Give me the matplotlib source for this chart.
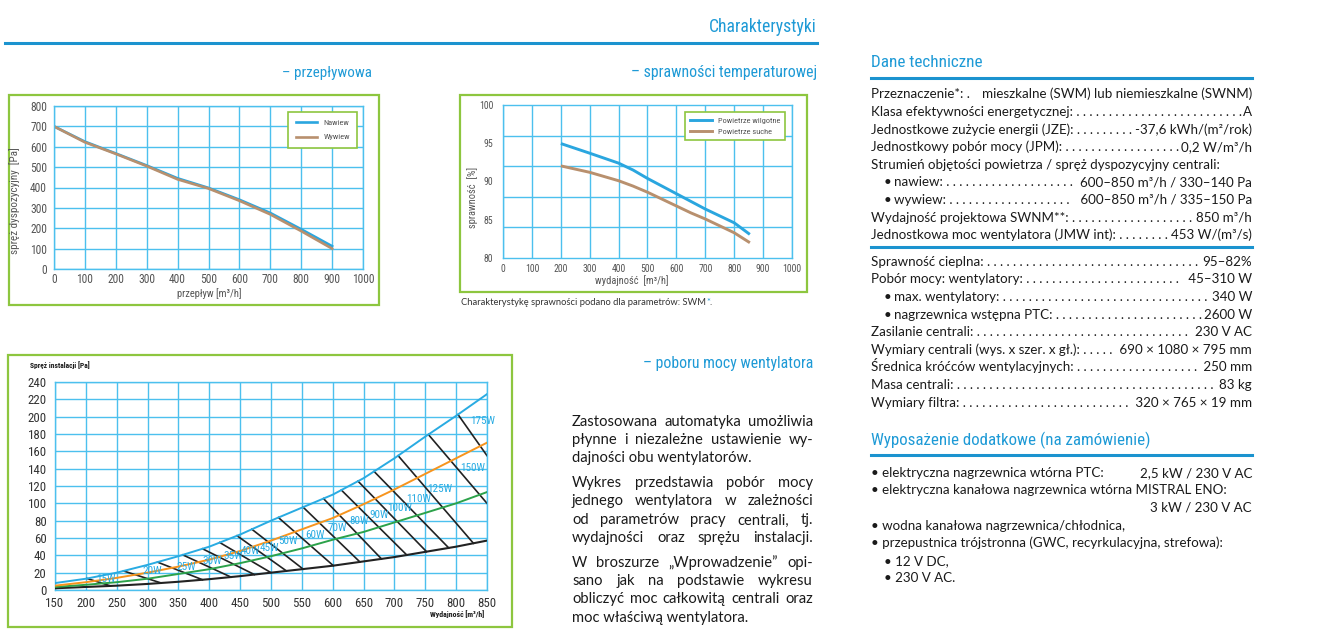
import numpy as np
import matplotlib
matplotlib.use("Agg")
import matplotlib.pyplot as plt
from matplotlib import font_manager as fm
from matplotlib.patches import Rectangle
from matplotlib.ticker import MultipleLocator

# --- przepływowa: available pressure vs flow --------------------------------
FLOW_X = [0, 100, 200, 300, 400, 500, 600, 700, 800, 900]
NAWIEW = [700, 625, 567, 508, 445, 398, 340, 275, 195, 112]
WYWIEW = [700, 622, 565, 505, 440, 395, 335, 268, 186, 100]

# --- sprawności temperaturowej: efficiency vs airflow -----------------------
EFF_X = [205, 300, 400, 450, 500, 550, 600, 650, 700, 750, 800, 850]
EFF_WET = [94.9, 93.7, 92.4, 91.5, 90.4, 89.4, 88.4, 87.4, 86.4, 85.5, 84.6, 83.2]
EFF_DRY = [92.0, 91.2, 90.1, 89.4, 88.6, 87.7, 86.8, 85.9, 85.1, 84.2, 83.3, 82.1]

# --- poboru mocy wentylatora: installation pressure vs airflow -------------
P_X = [150, 200, 250, 300, 350, 400, 450, 500, 550, 600, 650, 700, 750, 800, 850]
P_BLUE = [8, 13, 20, 29, 39, 50, 64, 80, 95, 110, 129, 152, 177, 201, 226]
P_ORANGE = [5, 9, 14, 20, 27, 35, 45, 57, 70, 83, 99, 116, 134, 152, 170]
P_GREEN = [3.5, 6, 9, 13, 18.5, 24, 31, 39, 48, 58, 67, 78, 89, 100, 113]
P_BLACK = [2, 3.5, 5, 7, 9.5, 12.5, 16, 20, 24, 28, 33, 38, 44, 50, 57]
# iso-power lines: start on the blue curve, end on the black curve
ISO_TOP_X = [202, 261, 316, 357, 389, 417, 445, 469, 512, 552, 585, 614, 641, 667, 706, 755, 803]
ISO_BOT_X = [240, 322, 389, 435, 473, 500, 525, 552, 601, 644, 679, 720, 752, 788, 828, 850, 850]
ISO_BOT_Y = [None] * 15 + [100, 155]      # last two leave through the right edge
POWER = ["15W", "20W", "25W", "30W", "35W", "40W", "45W", "50W", "60W", "70W",
         "80W", "90W", "100W", "110W", "125W", "150W", "175W"]
POWER_X = [233, 307, 363, 405, 438, 466, 497, 527, 571, 607, 643, 675, 708, 739, 774, 826, 843]
POWER_Y = [13, 22, 27, 34, 39, 45, 49, 56, 63, 72, 80, 87, 95, 105, 117, 141, 195]

# --- text blocks ------------------------------------------------------------
TECH_1 = [
    ("Klasa efektywności energetycznej:", "A", False),
    ("Jednostkowe zużycie energii (JZE):", "-37,6 kWh/(m²/rok)", False),
    ("Jednostkowy pobór mocy (JPM):", "0,2 W/m³/h", False),
    ("Strumień objętości powietrza / spręż dyspozycyjny centrali:", "", False),
    ("nawiew:", "600–850 m³/h / 330–140 Pa", True),
    ("wywiew:", " 600–850 m³/h / 335–150 Pa", True),
    ("Wydajność projektowa SWNM**:", "850 m³/h", False),
    ("Jednostkowa moc wentylatora (JMW int):", "453 W/(m³/s)", False),
]
TECH_2 = [
    ("Sprawność cieplna:", "95–82%", False),
    ("Pobór mocy: wentylatory:", " 45–310 W", False),
    ("max. wentylatory:", "340 W", True),
    ("nagrzewnica wstępna PTC:", "2600 W", True),
    ("Zasilanie centrali:", "230 V AC", False),
    ("Wymiary centrali (wys. x szer. x gł.):", " 690 × 1080 × 795 mm", False),
    ("Średnica króćców wentylacyjnych:", " 250 mm", False),
    ("Masa centrali:", "83 kg", False),
    ("Wymiary filtra:", " 320 × 765 × 19 mm", False),
]
EXTRAS = [
    ("• elektryczna nagrzewnica wtórna PTC:", "2,5 kW / 230 V AC", 0),
    ("• elektryczna kanałowa nagrzewnica wtórna MISTRAL ENO:", "", 0),
    ("", "3 kW / 230 V AC", 0),
    ("• wodna kanałowa nagrzewnica/chłodnica,", "", 0),
    ("• przepustnica trójstronna (GWC, recyrkulacyjna, strefowa):", "", 0),
    ("• 12 V DC,", "", 1),
    ("• 230 V AC.", "", 1),
]
PARA = [
    ("Zastosowana automatyka umożliwia", False),
    ("płynne i niezależne ustawienie wy-", False),
    ("dajności obu wentylatorów.", True),
    ("Wykres przedstawia pobór mocy", False),
    ("jednego wentylatora w zależności", False),
    ("od parametrów pracy centrali, tj.", False),
    ("wydajności oraz sprężu instalacji.", False),
    ("W broszurze „Wprowadzenie” opi-", False),
    ("sano jak na podstawie wykresu", False),
    ("obliczyć moc całkowitą centrali oraz", False),
    ("moc właściwą wentylatora.", True),
]

HEAD = "#1e9ad6"
RULE = "#1b93cf"
GREEN = "#8dc63f"
GRID = "#4cc0ee"
INK = "#1a1a1a"
TICK = "#555555"
C_NAW = "#2aa6df"
C_WYW = "#b8906e"
C_BLUE = "#29abe2"
C_ORANGE = "#f7941d"
C_GREEN = "#2ca24a"
C_BLACK = "#222222"

avail = {f.name for f in fm.fontManager.ttflist}


def pick(*names):
    for n in names:
        if n in avail:
            return n
    return "DejaVu Sans"


COND = pick("Roboto Condensed", "Liberation Sans Narrow", "Open Sans Condensed",
            "Noto Sans Condensed", "Roboto", "DejaVu Sans")
BODY = pick("Lato", "Carlito", "Open Sans", "Noto Sans")
plt.rcParams["font.family"] = [COND, "DejaVu Sans"]

W, H = 1324, 641
fig = plt.figure(figsize=(W / 100, H / 100), dpi=100)
fig.patch.set_facecolor("white")
R = fig.canvas.get_renderer()


def fx(x):
    return x / W


def fy(y):
    return 1 - y / H


def rect(x0, y0, x1, y1):
    return [x0 / W, 1 - y1 / H, (x1 - x0) / W, (y1 - y0) / H]


def width(s, size, family, weight="normal"):
    t = fig.text(0, 0, s, fontsize=size, family=family, fontweight=weight)
    w = t.get_window_extent(R).width
    t.remove()
    return w


def fit(s, target, family, weight="normal"):
    return 10 * target / width(s, 10, family, weight)


def put(x, y, s, size, family, color=INK, ha="left", weight="normal", rot=0):
    base = 0.3 * size * 100 / 72 if rot == 0 else 0
    fig.text(fx(x), fy(y + base), s, fontsize=size, family=family, color=color,
             ha=ha, va="baseline" if rot == 0 else "center", fontweight=weight,
             rotation=rot)


def hrule(x0, x1, y, lw=2.2):
    fig.add_artist(plt.Line2D([fx(x0), fx(x1)], [fy(y), fy(y)], color=RULE, lw=lw,
                              transform=fig.transFigure))


def frame(x0, y0, x1, y1):
    fig.add_artist(Rectangle((fx(x0), fy(y1)), (x1 - x0) / W, (y1 - y0) / H,
                             transform=fig.transFigure, fill=False, ec=GREEN, lw=1.6))


# --- headings ---------------------------------------------------------------
put(817, 27, "Charakterystyki", fit("Charakterystyki", 107, COND), COND, HEAD, ha="right")
hrule(5, 817, 43)
put(372, 72, "– przepływowa", fit("– przepływowa", 89, COND), COND, HEAD, ha="right")
put(817, 72, "– sprawności temperaturowej", fit("– sprawności temperaturowej", 185, COND),
    COND, HEAD, ha="right")
put(813, 363, "– poboru mocy wentylatora", fit("– poboru mocy wentylatora", 170, COND),
    COND, HEAD, ha="right")


def style_axes(ax, size):
    for s in ax.spines.values():
        s.set_color(GRID)
        s.set_linewidth(1.0)
    ax.tick_params(length=0, labelsize=size, labelcolor=TICK)
    ax.set_axisbelow(True)


# --- chart 1: przepływowa --------------------------------------------------
frame(9, 95, 379, 305)
ax1 = fig.add_axes(rect(54, 106, 363, 269))
ax1.plot(FLOW_X, NAWIEW, color=C_NAW, lw=1.9, label="Nawiew")
ax1.plot(FLOW_X, WYWIEW, color=C_WYW, lw=1.9, label="Wywiew")
ax1.set_xlim(0, 1000)
ax1.set_ylim(0, 800)
ax1.set_xticks(range(0, 1001, 100))
ax1.set_yticks(range(0, 801, 100))
ax1.grid(color=GRID, lw=1.0)
style_axes(ax1, 8.3)
ax1.tick_params(axis="y", pad=5)
ax1.tick_params(axis="x", pad=3)
leg = ax1.legend(loc="upper right", bbox_to_anchor=(0.995, 0.99), fontsize=6,
                 frameon=True, fancybox=False, edgecolor=GREEN, framealpha=1,
                 handlelength=2.6, borderpad=0.9, labelspacing=0.9, handletextpad=0.7)
leg.get_frame().set_linewidth(1.2)
for t in leg.get_texts():
    t.set_color(TICK)
put(15, 201, "spręż dyspozycyjny  [Pa]", 8, COND, TICK, ha="center", rot=90)
put(209, 294, "przepływ [m³/h]", 7.6, COND, TICK, ha="center")

# --- chart 2: sprawności temperaturowej -------------------------------------
frame(460, 95, 807, 292)
ax2 = fig.add_axes(rect(503, 105, 792, 258))
ax2.plot(EFF_X, EFF_WET, color=C_NAW, lw=2.1, label="Powietrze wilgotne")
ax2.plot(EFF_X, EFF_DRY, color=C_WYW, lw=2.1, label="Powietrze suche")
ax2.set_xlim(0, 1000)
ax2.set_ylim(80, 100)
ax2.set_xticks(range(0, 1001, 100))
ax2.set_yticks([80, 85, 90, 95, 100])
ax2.yaxis.set_minor_locator(MultipleLocator(4))
ax2.grid(axis="x", color=GRID, lw=1.0)
ax2.grid(axis="y", which="minor", color=GRID, lw=1.0)
style_axes(ax2, 7)
ax2.tick_params(which="minor", length=0)
ax2.tick_params(axis="y", pad=7)
ax2.tick_params(axis="x", pad=4)
leg = ax2.legend(loc="upper right", bbox_to_anchor=(0.99, 0.98), fontsize=6,
                 frameon=True, fancybox=False, edgecolor=GREEN, framealpha=1,
                 handlelength=2.6, borderpad=0.6, labelspacing=0.5, handletextpad=0.7)
leg.get_frame().set_linewidth(1.2)
for t in leg.get_texts():
    t.set_color(TICK)
put(473, 197, "sprawność  [%]", 7.5, COND, TICK, ha="center", rot=90)
put(632, 281, "wydajność  [m³/h]", 7.5, COND, TICK, ha="center")
cap = "Charakterystykę sprawności podano dla parametrów: SWM"
cs = fit(cap + "*.", 252, BODY)
wfull = width(cap + "*.", cs, BODY)
put(461, 302, cap, cs, BODY, "#333333")
put(461 + wfull - width("*.", cs, BODY), 302, "*", cs, BODY, HEAD)
put(461 + wfull - width(".", cs, BODY), 302, ".", cs, BODY, "#333333")

# --- chart 3: poboru mocy wentylatora ---------------------------------------
frame(8, 355, 512, 627)
ax3 = fig.add_axes(rect(55, 382, 487, 590))
ax3.plot(P_X, P_BLACK, color=C_BLACK, lw=1.5, zorder=3)
ax3.plot(P_X, P_GREEN, color=C_GREEN, lw=1.4, zorder=3)
ax3.plot(P_X, P_ORANGE, color=C_ORANGE, lw=1.4, zorder=3)
ax3.plot(P_X, P_BLUE, color=C_BLUE, lw=1.4, zorder=3)
for xt, xb, yb in zip(ISO_TOP_X, ISO_BOT_X, ISO_BOT_Y):
    yt = np.interp(xt, P_X, P_BLUE)
    if yb is None:
        yb = np.interp(xb, P_X, P_BLACK)
    ax3.plot([xt, xb], [yt, yb], color=C_BLACK, lw=1.2, zorder=2)
for lab, x, y in zip(POWER, POWER_X, POWER_Y):
    ax3.text(x, y, lab, color=C_BLUE, fontsize=8, ha="center", va="center",
             zorder=4, clip_on=False)
ax3.set_xlim(150, 850)
ax3.set_ylim(0, 240)
ax3.set_xticks(P_X)
ax3.set_yticks(range(0, 241, 20))
ax3.grid(color=GRID, lw=1.0)
style_axes(ax3, 9.3)
for t in ax3.get_xticklabels() + ax3.get_yticklabels():
    t.set_color("#333333")
ax3.tick_params(axis="y", pad=6)
ax3.tick_params(axis="x", pad=5)
put(30, 366, "Spręż instalacji [Pa]", fit("Spręż instalacji [Pa]", 60, COND, "bold"),
    COND, INK, weight="bold")
put(484, 615, "Wydajność [m³/h]", fit("Wydajność [m³/h]", 54, COND, "bold"),
    COND, INK, ha="right", weight="bold")

# --- middle paragraph (justified) -------------------------------------------
PARA_Y = [422, 440, 458, 483, 501, 520, 538, 563, 581, 599, 618]
ps = fit("dajności obu wentylatorów.", 180, BODY)
for (line, last), y in zip(PARA, PARA_Y):
    words = line.split()
    if last:
        put(572, y, line, ps, BODY)
        continue
    ws = [width(w, ps, BODY) for w in words]
    gap = (813 - 572 - sum(ws)) / (len(words) - 1)
    x = 572
    for w, ww in zip(words, ws):
        put(x, y, w, ps, BODY)
        x += ww + gap

# --- right column -----------------------------------------------------------
XL, XR = 871, 1252
bs = fit("Strumień objętości powietrza / spręż dyspozycyjny centrali:", 351, BODY)


def leader(label, value, y, x0):
    if not value:
        put(x0, y, label, bs, BODY)
        return
    wv = width(value, bs, BODY)
    room = XR - wv - x0 - 1
    base = label + " "
    w1 = width(base + ".", bs, BODY)
    w11 = width(base + " ".join(["."] * 11), bs, BODY)
    pitch = (w11 - w1) / 10
    n = max(1 + int((room - w1) / pitch), 0)
    put(x0, y, base + " ".join(["."] * n), bs, BODY)
    put(XR, y, value, bs, BODY, ha="right")


put(XL, 62, "Dane techniczne", fit("Dane techniczne", 111, COND), COND, HEAD)
hrule(XL, XR, 78)
put(XL, 94, "Przeznaczenie*: .", bs, BODY)
put(XR, 94, "mieszkalne (SWM) lub niemieszkalne (SWNM)", bs, BODY, ha="right")
for i, (lab, val, ind) in enumerate(TECH_1):
    y = 111.9 + 17.6 * i
    if ind:
        put(884, y, "•", bs, BODY)
    leader(lab, val, y, 894 if ind else XL)

hrule(XL, XR, 247)
for i, (lab, val, ind) in enumerate(TECH_2):
    y = 261.7 + 17.6 * i
    if ind:
        put(884, y, "•", bs, BODY)
    leader(lab, val, y, 894 if ind else XL)

put(XL, 440, "Wyposażenie dodatkowe (na zamówienie)",
    fit("Wyposażenie dodatkowe (na zamówienie)", 278, COND), COND, HEAD)
hrule(XL, XR, 455)
for i, (lab, val, ind) in enumerate(EXTRAS):
    y = 472.7 + 17.6 * i
    if lab:
        put(XL + 13 * ind, y, lab, bs, BODY)
    if val:
        put(XR, y, val, bs, BODY, ha="right")

fig.savefig("out.png", dpi=100)
